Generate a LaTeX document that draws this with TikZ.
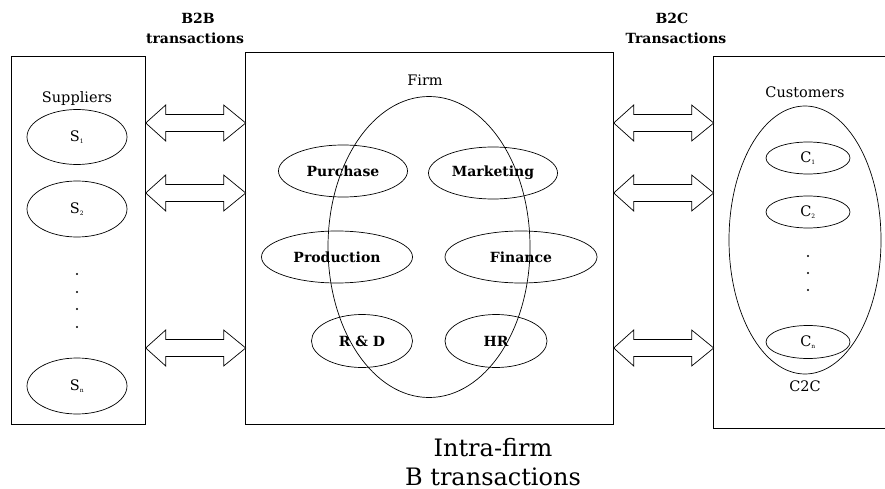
\documentclass[tikz,border=0pt]{standalone}
\usepackage{fontspec}
\setmainfont{DejaVu Serif}
\usetikzlibrary{shapes.geometric}
\newcommand\subsc[1]{\textsubscript{\fontsize{6}{6}\selectfont #1}}
\begin{document}
\begin{tikzpicture}[x=1pt,y=-1pt,line width=0.7pt,
  oval/.style={draw, ellipse, inner sep=0pt, line width=0.7pt},
  blab/.style={font=\fontsize{14}{14}\selectfont\bfseries},
  lab/.style={font=\fontsize{14.5}{14.5}\selectfont},
  head/.style={font=\fontsize{14}{14}\selectfont\bfseries},
  big/.style={font=\fontsize{24}{24}\selectfont, anchor=base},
  dblarr/.style={draw, line width=0.7pt, fill=white},
  frame/.style={draw, inner sep=0pt, anchor=north west, line width=0.7pt}]
\useasboundingbox (0,0) rectangle (885,489);

% boxes
\node[frame, minimum width=134pt, minimum height=368pt] (sup) at (11,56) {};
\node[frame, minimum width=368pt, minimum height=372pt] (firm) at (245,52) {};
\node[inner sep=0pt, anchor=north west, minimum width=172pt, minimum height=372pt] (cust) at (713,56) {};
\draw (cust.north east) -- (cust.north west) -- (cust.south west) -- (cust.south east);

% headings
\node[head] (b2b) at (198,18) {B2B};
\node[head] (b2bt) at (195,38) {transactions};
\node[head] (b2c) at (672,18) {B2C};
\node[head] (b2ct) at (676,38) {Transactions};

% double arrows
\foreach \yy in {123,193,348}{
  \draw[dblarr] (sup.east |- 0,\yy) -- ++(20,-18) -- ++(0,9.5) -- ++(58,0) -- ++(0,-9.5)
     -- ++(22,18) -- ++(-22,18) -- ++(0,-9.5) -- ++(-58,0) -- ++(0,9.5) -- cycle;
  \draw[dblarr] (firm.east |- 0,\yy) -- ++(20,-18) -- ++(0,9.5) -- ++(58,0) -- ++(0,-9.5)
     -- ++(22,18) -- ++(-22,18) -- ++(0,-9.5) -- ++(-58,0) -- ++(0,9.5) -- cycle;
}

% suppliers
\node[lab] (suplab) at (77,99) {Suppliers};
\node[oval, lab, minimum width=100pt, minimum height=55pt] (s1) at (77,137) {S\subsc{1}};
\node[oval, lab, minimum width=100pt, minimum height=56pt] (s2) at (77,209) {S\subsc{2}};
\node[oval, lab, minimum width=100pt, minimum height=56pt] (sn) at (77,386) {S\subsc{n}};
\foreach \yy in {274,292,309,327} \fill (77,\yy) circle (1.1pt);

% firm
\node[lab] (firmlab) at (425,80) {Firm};
\node[oval, minimum width=202pt, minimum height=301pt] (core) at (429,247) {};
\node[oval, blab, minimum width=129pt, minimum height=52pt] (pur) at (343,171) {Purchase};
\node[oval, blab, minimum width=129pt, minimum height=52pt] (mkt) at (493,173) {Marketing};
\node[oval, blab, minimum width=151pt, minimum height=52pt] (prod) at (337,257) {Production};
\node[oval, blab, minimum width=152pt, minimum height=52pt] (fin) at (521,257) {Finance};
\node[oval, blab, minimum width=101pt, minimum height=53pt] (rd) at (362,341) {R \& D};
\node[oval, blab, minimum width=102pt, minimum height=53pt] (hr) at (496,341) {HR};

% customers
\node[lab] (custlab) at (805,92) {Customers};
\node[oval, minimum width=152pt, minimum height=268pt] (cov) at (805,240) {};
\node[oval, lab, minimum width=84pt, minimum height=32pt] (c1) at (808,158) {C\subsc{1}};
\node[oval, lab, minimum width=84pt, minimum height=32pt] (c2) at (808,212) {C\subsc{2}};
\node[oval, lab, minimum width=84pt, minimum height=33pt] (cn) at (808,342) {C\subsc{n}};
\foreach \yy in {256,273,290} \fill (808,\yy) circle (1.1pt);
\node[lab] (c2c) at (805,386) {C2C};

% bottom caption
\node[big] (intra) at (493,456) {Intra-firm};
\node[big] (btr) at (493,485) {B transactions};
\end{tikzpicture}
\end{document}
